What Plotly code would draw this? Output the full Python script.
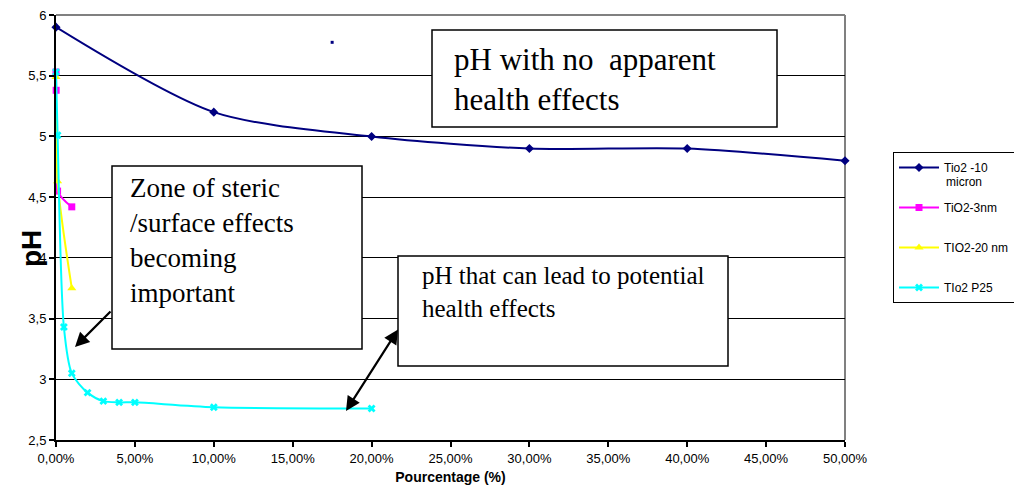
import plotly.graph_objects as go

# ---- data ----
x_micron = [0.0, 0.10, 0.20, 0.30, 0.40, 0.50]
y_micron = [5.90, 5.20, 5.00, 4.90, 4.90, 4.80]

x_3nm = [0.0, 0.0001, 0.001, 0.01]
y_3nm = [5.53, 5.38, 4.55, 4.42]

x_20nm = [0.0, 0.001, 0.01]
y_20nm = [5.49, 4.63, 3.75]

x_p25 = [0.0, 0.001, 0.005, 0.01, 0.02, 0.03, 0.04, 0.05, 0.10, 0.20]
y_p25 = [5.53, 5.01, 3.43, 3.05, 2.89, 2.82, 2.81, 2.81, 2.77, 2.76]

x_stray = [0.175]
y_stray = [5.775]

names = ["Tio2 -10", "TiO2-3nm", "TIO2-20 nm", "TIo2 P25"]
name_extra = "micron"
x_ticks = [0.0, 0.05, 0.10, 0.15, 0.20, 0.25, 0.30, 0.35, 0.40, 0.45, 0.50]
y_ticks = [2.5, 3.0, 3.5, 4.0, 4.5, 5.0, 5.5, 6.0]

# ---- layout geometry (reference-window pixels) ----
OFF = 8                      # default page body margin
W, H = 1022 - OFF, 494 - OFF
L, R, T, B = 56, 845, 15, 440  # plot area in window px


def px(xp):
    return (xp - L) / (R - L)


def py(yp):
    return (B - yp) / (B - T)


def dx(xp):
    return (xp - L) / (R - L) * 0.5


def dy(yp):
    return 2.5 + (B - yp) / (B - T) * 3.5


ARIAL = "Arial, Liberation Sans, sans-serif"
TIMES = "Times New Roman, Liberation Serif, serif"

fig = go.Figure()

fig.add_trace(go.Scatter(
    x=x_micron, y=y_micron, name=names[0], mode="lines+markers",
    line=dict(color="#000080", width=2, shape="spline", smoothing=0.8),
    marker=dict(symbol="diamond", size=7, color="#000080"),
    cliponaxis=False, legendgroup="a"))
fig.add_trace(go.Scatter(
    x=x_3nm, y=y_3nm, name=names[1], mode="lines+markers",
    line=dict(color="#FF00FF", width=2, shape="spline", smoothing=0.8),
    marker=dict(symbol="square", size=7, color="#FF00FF"),
    cliponaxis=False, legendgroup="b"))
fig.add_trace(go.Scatter(
    x=x_20nm, y=y_20nm, name=names[2], mode="lines+markers",
    line=dict(color="#FFFF00", width=2, shape="spline", smoothing=0.8),
    marker=dict(symbol="triangle-up", size=8, color="#FFFF00"),
    cliponaxis=False, legendgroup="c"))
fig.add_trace(go.Scatter(
    x=x_p25, y=y_p25, name=names[3], mode="lines+markers",
    line=dict(color="#00FFFF", width=2, shape="spline", smoothing=0.8),
    marker=dict(symbol="x", size=7, color="#00FFFF"),
    cliponaxis=False, legendgroup="d"))
fig.add_trace(go.Scatter(
    x=x_stray, y=y_stray, mode="markers", showlegend=False,
    marker=dict(symbol="square", size=3, color="#000080")))

shapes = [
    dict(type="line", xref="paper", yref="paper", x0=0, x1=1, y0=1, y1=1,
         line=dict(color="#808080", width=2), layer="between"),
    dict(type="line", xref="paper", yref="paper", x0=1, x1=1, y0=0, y1=1,
         line=dict(color="#808080", width=2), layer="between"),
]
boxes = [
    (432, 30, 777, 127),
    (112, 166, 362, 349),
    (398, 256, 728, 366),
]
for (x0, y0, x1, y1) in boxes:
    shapes.append(dict(type="rect", xref="paper", yref="paper",
                       x0=px(x0), x1=px(x1), y0=py(y0), y1=py(y1),
                       fillcolor="white", line=dict(color="black", width=1.5),
                       layer="above"))

annotations = [
    dict(text="pH with no  apparent<br>health effects", x=px(452), y=py(79),
         xref="paper", yref="paper", xanchor="left", yanchor="middle",
         align="left", showarrow=False, font=dict(family=TIMES, size=31, color="black")),
    dict(text="Zone of steric<br>/surface effects<br>becoming<br>important", x=px(128), y=py(240),
         xref="paper", yref="paper", xanchor="left", yanchor="middle",
         align="left", showarrow=False, font=dict(family=TIMES, size=27, color="black")),
    dict(text="pH that can lead to potential<br>health effects", x=px(420), y=py(292),
         xref="paper", yref="paper", xanchor="left", yanchor="middle",
         align="left", showarrow=False, font=dict(family=TIMES, size=25, color="black")),
    # arrows
    dict(text="", x=dx(75), y=dy(347), ax=dx(112), ay=dy(310), xref="x", yref="y",
         axref="x", ayref="y", showarrow=True, arrowhead=2, arrowsize=1.3,
         arrowwidth=2.2, arrowcolor="black", standoff=0, startstandoff=0),
    dict(text="", x=dx(346), y=dy(411), ax=dx(399), ay=dy(328), xref="x", yref="y",
         axref="x", ayref="y", showarrow=True, arrowhead=2, startarrowhead=2,
         arrowside="end+start", arrowsize=1.3, startarrowsize=1.3,
         arrowwidth=2.2, arrowcolor="black", standoff=0, startstandoff=0),
    # y-axis title
    dict(text="<b>pH</b>", x=px(31), y=py(248), xref="paper", yref="paper",
         textangle=-90, showarrow=False, xanchor="center", yanchor="middle",
         font=dict(family=ARIAL, size=28, color="black")),
    # second line of first legend entry
    dict(text=name_extra, x=px(944), y=py(182), xref="paper", yref="paper",
         xanchor="left", yanchor="middle", showarrow=False,
         font=dict(family=ARIAL, size=12, color="black")),
]

fig.update_layout(
    width=W, height=H,
    margin=dict(l=L - OFF, r=W - (R - OFF), t=T - OFF, b=H - (B - OFF), pad=0,
                autoexpand=False),
    paper_bgcolor="white", plot_bgcolor="white",
    separators=", ",
    shapes=shapes, annotations=annotations,
    showlegend=True,
    legend=dict(x=px(893), y=py(152), xanchor="left", yanchor="top",
                bordercolor="black", borderwidth=1, bgcolor="rgba(0,0,0,0)",
                font=dict(family=ARIAL, size=12, color="black"),
                tracegroupgap=21, valign="middle", itemwidth=40),
    xaxis=dict(range=[0, 0.5], tickvals=x_ticks, tickformat=".2%",
               showgrid=False, zeroline=False, showline=True, linecolor="black",
               linewidth=2, ticks="outside", ticklen=5, tickcolor="black", tickwidth=1.5,
               ticklabeloverflow="allow", automargin=False,
               tickfont=dict(family=ARIAL, size=13, color="black"),
               title=dict(text="<b>Pourcentage (%)</b>", standoff=8,
                          font=dict(family=ARIAL, size=14, color="black"))),
    yaxis=dict(range=[2.5, 6], tickvals=y_ticks, showgrid=True, gridcolor="black",
               gridwidth=1, zeroline=False, showline=True, linecolor="black",
               linewidth=2, ticks="outside", ticklen=5, tickcolor="black", tickwidth=1.5,
               ticklabeloverflow="allow", automargin=False,
               tickfont=dict(family=ARIAL, size=13, color="black")),
)

fig.write_html("out.html")
